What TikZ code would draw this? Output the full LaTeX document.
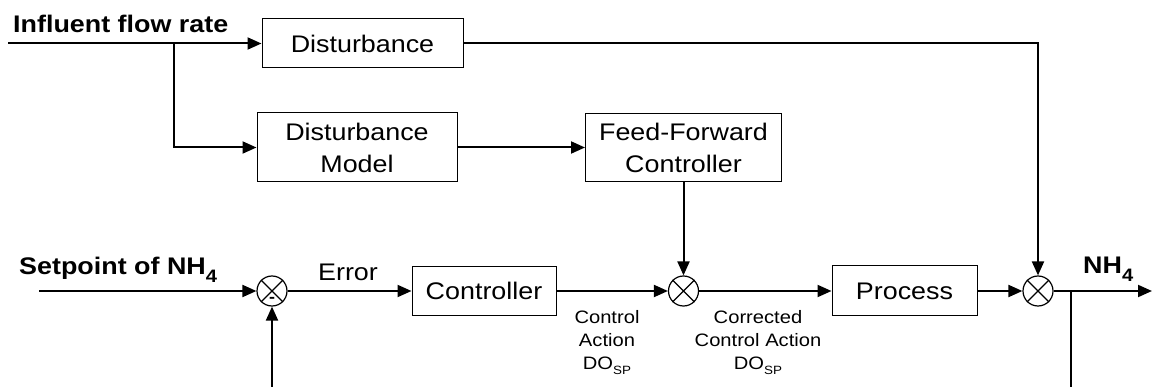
\documentclass[tikz,border=0pt]{standalone}
\usepackage{fontspec}
\setmainfont{Liberation Sans}[FakeStretch=1.12]
\usetikzlibrary{arrows.meta}
\tikzset{
  blk/.style={draw, line width=1pt, inner sep=0pt, align=center, font=\fontsize{24}{32}\selectfont},
  sumnode/.style={draw, circle, line width=1.2pt, minimum size=30pt, inner sep=0pt},
  conn/.style={line width=2pt},
  arr/.style={conn, -{Triangle[length=14pt,width=12pt]}},
  biglbl/.style={font=\bfseries\fontsize{24}{28}\selectfont, inner sep=0pt},
  midlbl/.style={font=\fontsize{24}{28}\selectfont, inner sep=0pt},
  smalllbl/.style={font=\fontsize{18}{23}\selectfont, inner sep=0pt, align=center}
}
\begin{document}
\begin{tikzpicture}[x=1pt,y=-1pt]
\useasboundingbox (0,0) rectangle (1152,387);

% blocks
\node[blk, minimum width=201pt, minimum height=49pt] (dist) at (362.5,43.5) {Disturbance};
\node[blk, minimum width=200pt, minimum height=69pt] (dm) at (357,147.5) {Disturbance\\Model};
\node[blk, minimum width=196pt, minimum height=68pt] (ff) at (683.5,147.5) {Feed-Forward\\Controller};
\node[blk, minimum width=144pt, minimum height=49pt] (ctrl) at (484,291) {Controller};
\node[blk, minimum width=145pt, minimum height=50pt] (proc) at (904.5,291) {Process};

% summing junctions
\node[sumnode] (s1) at (272,291) {};
\node[sumnode] (s2) at (683.5,291) {};
\node[sumnode] (s3) at (1038,291) {};
\foreach \s in {s1,s2,s3}{
  \draw[line width=1.2pt] (\s.north west) -- (\s.south east) (\s.north east) -- (\s.south west);
}
\node[font=\bfseries\fontsize{16}{16}\selectfont, inner sep=0pt] (minus) at (272,299.5) {-};

% free ends
\coordinate (in) at (8,43.5);
\coordinate (br) at (174,43.5);
\coordinate (sp) at (39,291);
\coordinate (fb) at (272,387);
\coordinate (out) at (1152,291);
\coordinate (j) at (1071,291);
\coordinate (jb) at (1071,387);

% connectors
\draw[arr] (in) -- (dist.west);
\draw[arr] (br) |- (dm.west);
\draw[arr] (dm.east) -- (ff.west);
\draw[arr] (dist.east) -| (s3.north);
\draw[arr] (ff.south) -- (s2.north);
\draw[arr] (sp) -- (s1.west);
\draw[arr] (fb) -- (s1.south);
\draw[arr] (s1.east) -- (ctrl.west);
\draw[arr] (ctrl.east) -- (s2.west);
\draw[arr] (s2.east) -- (proc.west);
\draw[arr] (proc.east) -- (s3.west);
\draw[arr] (s3.east) -- (out);
\draw[conn] (j) -- (jb);

% labels
\node[biglbl, anchor=base west] (linf) at (13,33) {Influent flow rate};
\node[biglbl, anchor=base west] (lsp) at (19,275) {Setpoint of NH\raisebox{-8pt}{\fontsize{18}{18}\selectfont 4}};
\node[biglbl, anchor=base west] (lnh) at (1083,274) {NH\raisebox{-8pt}{\fontsize{18}{18}\selectfont 4}};
\node[midlbl, anchor=base] (lerr) at (348,281) {Error};
\node[smalllbl, anchor=north] (lca) at (607,310) {Control\\Action\\DO\raisebox{-5pt}{\fontsize{12}{12}\selectfont SP}};
\node[smalllbl, anchor=north] (lcca) at (758,310) {Corrected\\Control Action\\DO\raisebox{-5pt}{\fontsize{12}{12}\selectfont SP}};
\end{tikzpicture}
\end{document}
